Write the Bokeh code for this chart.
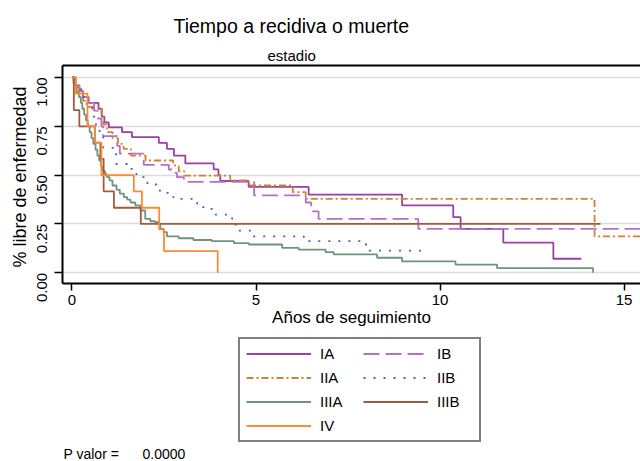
import math
from bokeh.plotting import figure
from bokeh.layouts import column
from bokeh.models import (Legend, LegendItem, Label, LinearAxis, FixedTicker, Title,
                          PrintfTickFormatter, Range1d)
from bokeh.embed import file_html
from bokeh.resources import INLINE

# ---------------- data ----------------
groups = ["IA", "IB", "IIA", "IIB", "IIIA", "IIIB", "IV"]

ia_t = [0, 0.1, 0.2, 0.3, 0.45, 0.72, 0.81, 0.88, 1.0, 1.36, 1.63, 2.36, 2.58, 2.77,
        3.08, 3.85, 3.98, 4.03, 4.8, 6.43, 8.97, 10.36, 10.56, 11.72, 13.08, 13.84]
ia_s = [1.0, 0.96, 0.93, 0.90, 0.87, 0.84, 0.80, 0.77, 0.745, 0.72, 0.695, 0.665, 0.635, 0.60,
        0.56, 0.53, 0.50, 0.47, 0.44, 0.40, 0.345, 0.285, 0.225, 0.154, 0.072, 0.072]

ib_t = [0, 0.08, 0.15, 0.3, 0.45, 0.6, 0.7, 0.8, 0.85, 1.23, 1.3, 1.95, 2.63, 2.72, 2.85,
        3.04, 4.95, 6.35, 6.5, 6.7, 9.41, 15.6]
ib_s = [1.0, 0.96, 0.93, 0.90, 0.87, 0.83, 0.79, 0.75, 0.70, 0.65, 0.61, 0.553, 0.529, 0.512,
        0.49, 0.466, 0.396, 0.36, 0.315, 0.276, 0.225, 0.225]

iia_t = [0, 0.08, 0.2, 0.3, 0.45, 0.8, 0.85, 0.95, 1.1, 1.25, 1.4, 1.6, 2.0, 2.75, 2.9,
         3.05, 4.3, 4.8, 6.0, 6.35, 14.2, 15.6]
iia_s = [1.0, 0.96, 0.92, 0.88, 0.85, 0.80, 0.76, 0.72, 0.69, 0.66, 0.635, 0.60, 0.575, 0.55,
         0.52, 0.498, 0.473, 0.447, 0.413, 0.379, 0.186, 0.186]

iib_t = [0, 0.1, 0.25, 0.4, 0.55, 0.65, 0.75, 0.85, 1.2, 1.5, 1.75, 1.95, 2.05, 2.3, 2.45,
         2.75, 2.85, 3.4, 3.65, 3.9, 4.35, 4.43, 4.47, 4.52, 4.9, 6.3, 7.95, 8.08, 9.52]
iib_s = [1.0, 0.95, 0.90, 0.85, 0.80, 0.75, 0.70, 0.64, 0.557, 0.532, 0.49, 0.464, 0.452,
         0.421, 0.409, 0.387, 0.378, 0.336, 0.327, 0.298, 0.276, 0.247, 0.233, 0.216, 0.187,
         0.162, 0.145, 0.114, 0.114]

iiia_t = [0, 0.04, 0.09, 0.13, 0.19, 0.24, 0.28, 0.33, 0.38, 0.43, 0.48, 0.53, 0.58, 0.64,
          0.69, 0.74, 0.79, 0.84, 0.9, 0.95, 1.02, 1.1, 1.21, 1.3, 1.41, 1.5, 1.59, 1.72,
          1.86, 1.99, 2.13, 2.26, 2.36, 2.4, 2.49, 2.58, 2.9, 3.3, 3.8, 4.4, 4.8, 5.71, 6.16,
          6.89, 7.11, 8.29, 8.97, 10.42, 11.55, 14.16]
iiia_s = [1.0, 0.97, 0.95, 0.925, 0.90, 0.87, 0.84, 0.81, 0.78, 0.75, 0.72, 0.69, 0.66, 0.63,
          0.60, 0.575, 0.545, 0.52, 0.505, 0.49, 0.473, 0.447, 0.425, 0.405, 0.387, 0.375,
          0.36, 0.345, 0.319, 0.276, 0.264, 0.259, 0.251, 0.225, 0.208, 0.186, 0.177, 0.168,
          0.162, 0.152, 0.145, 0.128, 0.119, 0.106, 0.094, 0.077, 0.058, 0.042, 0.024, 0.0]

iiib_t = [0, 0.05, 0.2, 0.62, 0.77, 0.86, 1.14, 1.87, 14.36]
iiib_s = [1.0, 0.833, 0.75, 0.667, 0.583, 0.417, 0.333, 0.25, 0.25]

iv_t = [0, 0.1, 0.42, 0.62, 0.8, 1.68, 1.9, 2.37, 2.5, 3.96]
iv_s = [1.0, 0.917, 0.75, 0.667, 0.5, 0.417, 0.333, 0.222, 0.111, 0.0]

x_ticks = [0, 5, 10, 15]
y_ticks = [0, 0.25, 0.5, 0.75, 1.0]

title_text = "Tiempo a  recidiva o muerte"
subtitle_text = "estadio"
x_label = "Años de seguimiento"
y_label = "%  libre de enfermedad"
p_label = "P valor ="
p_value = "0.0000"

# ---------------- styles ----------------
FONT = "Liberation Sans"
series = [
    ("IA", ia_t, ia_s, "#9b3fa3", None),
    ("IB", ib_t, ib_s, "#b66fc6", "16 6"),
    ("IIA", iia_t, iia_s, "#d2822e", "7 3 2 3"),
    ("IIB", iib_t, iib_s, "#5656cc", "2 8"),
    ("IIIA", iiia_t, iiia_s, "#6f9383", None),
    ("IIIB", iiib_t, iiib_s, "#a15a3b", None),
    ("IV", iv_t, iv_s, "#fb8a34", None),
]

W = 640
H_MAIN, H_BOT = 335, 126

# ---------------- main plot ----------------
p = figure(width=W, height=H_MAIN, output_backend="svg", toolbar_location=None,
           x_range=Range1d(-0.258, 15.448), y_range=Range1d(-0.0548, 1.0614),
           min_border_left=62, min_border_right=0, min_border_top=65,
           min_border_bottom=52)
p.outline_line_color = None
p.background_fill_color = "white"
p.border_fill_color = "white"

xa = p.xaxis[0]
xa.ticker = FixedTicker(ticks=x_ticks)
xa.axis_label = x_label
ya = p.yaxis[0]
ya.ticker = FixedTicker(ticks=y_ticks)
ya.formatter = PrintfTickFormatter(format="%.2f")
ya.axis_label = y_label
ya.major_label_orientation = math.pi / 2
for ax in (xa, ya):
    ax.axis_line_color = "black"
    ax.axis_line_width = 2
    ax.major_tick_line_color = "black"
    ax.major_tick_line_width = 1.5
    ax.minor_tick_line_color = None
    ax.major_tick_in = 0
    ax.major_label_text_font = FONT
    ax.major_label_text_font_size = "15px"
    ax.major_label_text_color = "black"
    ax.axis_label_text_font = FONT
    ax.axis_label_text_font_style = "normal"
    ax.axis_label_text_color = "black"
xa.major_tick_out = 7
xa.major_label_standoff = 4
xa.axis_label_standoff = 0
xa.axis_label_text_font_size = "17px"
ya.major_tick_out = 8
ya.major_label_standoff = 12
ya.axis_label_standoff = 0
ya.axis_label_text_font_size = "18px"

top = LinearAxis(ticker=FixedTicker(ticks=[]), axis_line_color="black", axis_line_width=2,
                 major_tick_line_color=None, minor_tick_line_color=None,
                 major_label_text_font_size="0px")
p.add_layout(top, "above")
p.add_layout(Title(text=subtitle_text, align="left", offset=205, text_font=FONT,
                   text_font_size="15px", text_font_style="normal",
                   text_color="black", standoff=4), "above")
p.add_layout(Title(text=title_text, align="left", offset=111, text_font=FONT,
                   text_font_size="19.5px", text_font_style="normal",
                   text_color="black", standoff=12), "above")

p.xgrid.grid_line_color = None
p.ygrid.ticker = FixedTicker(ticks=y_ticks)
p.ygrid.grid_line_color = "#dcdcdc"
p.ygrid.grid_line_width = 1.5

# ---------------- legend panel (same series, ranges keep them off-view) ----------------
pb = figure(width=W, height=H_BOT, output_backend="svg", toolbar_location=None,
            x_range=Range1d(1000, 1640), y_range=Range1d(1000, 1126),
            x_axis_type=None, y_axis_type=None,
            min_border_left=62, min_border_right=0, min_border_top=0,
            min_border_bottom=0)
pb.outline_line_color = None
pb.xgrid.grid_line_color = None
pb.ygrid.grid_line_color = None
pb.background_fill_color = "white"
pb.border_fill_color = "white"

items = []
for name, t, s, col, dash in series:
    kw = dict(line_color=col, line_width=1.8, mode="after")
    if dash:
        kw["line_dash"] = dash
    p.step(t, s, **kw)
    r = pb.step(t, s, **kw)
    items.append(LegendItem(label=name, renderers=[r]))

legend = Legend(items=items, orientation="horizontal", ncols=2, location=(176, 19),
                border_line_color="black", border_line_width=2,
                background_fill_color="white", background_fill_alpha=1,
                label_text_font=FONT, label_text_font_size="15px",
                label_text_color="black",
                glyph_width=65, glyph_height=17, label_standoff=9, spacing=7,
                padding=6, margin=0, label_width=36)
pb.add_layout(legend, "center")

for txt, x in ((p_label, 1), (p_value, 80)):
    pb.add_layout(Label(text=txt, x=x, y=8, x_units="screen", y_units="screen",
                        text_font=FONT, text_font_size="14px", text_color="black",
                        text_align="left", text_baseline="alphabetic"))

layout = column(p, pb, spacing=0)
open("out.html", "w").write(file_html(layout, INLINE))
